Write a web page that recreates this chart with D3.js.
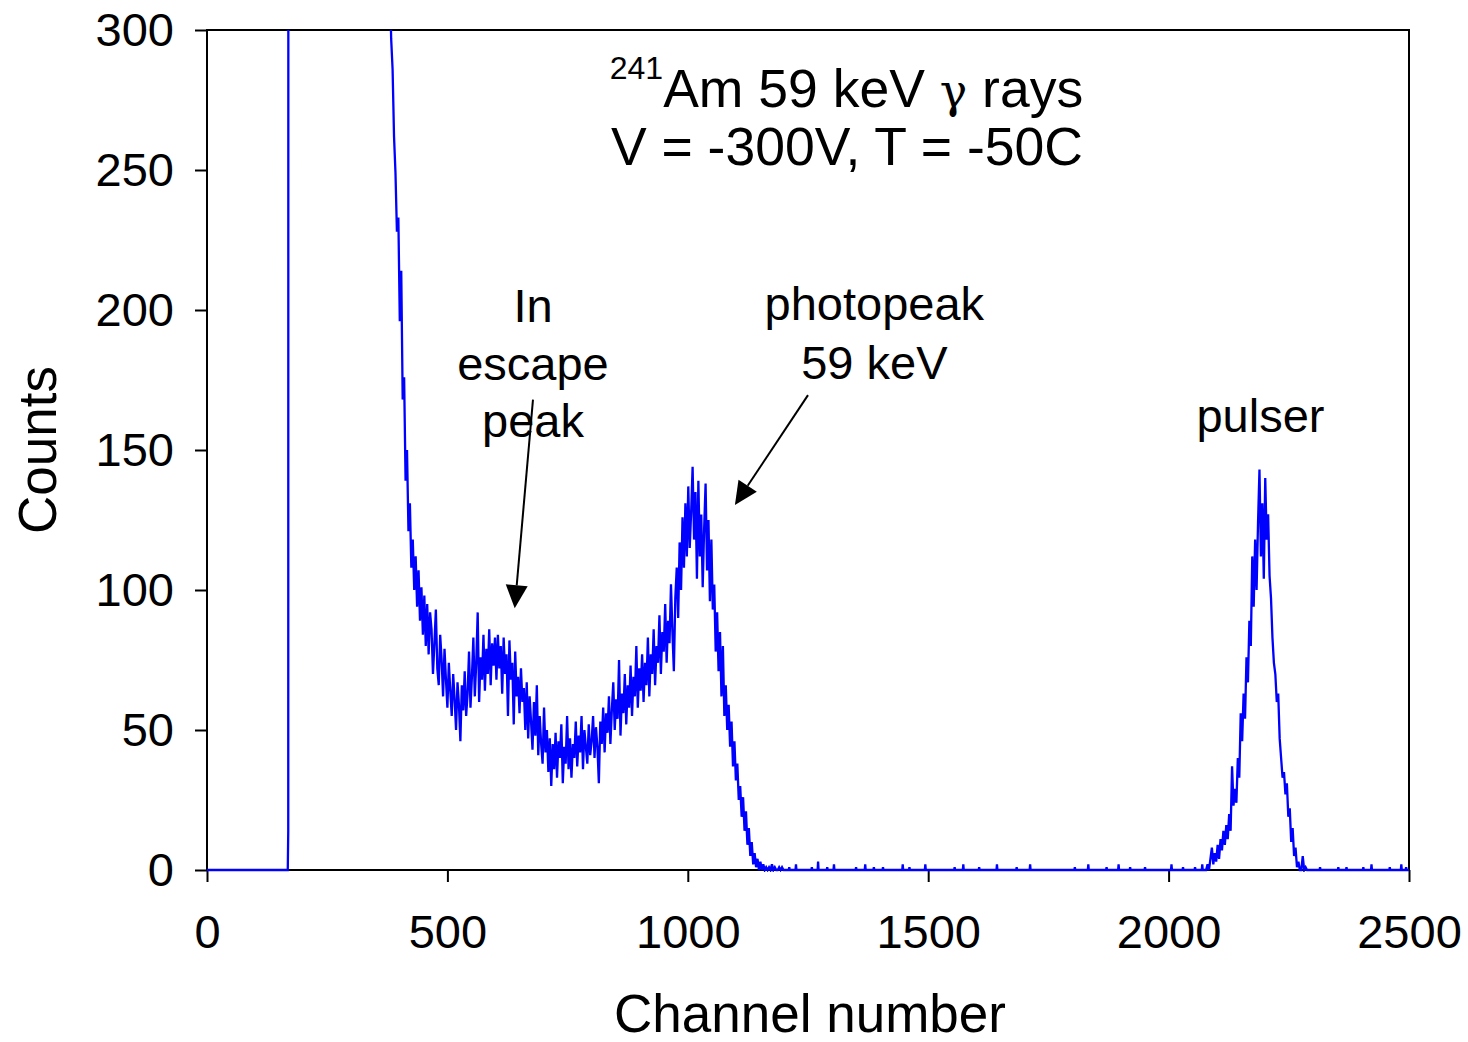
<!DOCTYPE html>
<html><head><meta charset="utf-8">
<script src="https://cdn.jsdelivr.net/npm/d3@7"></script>
<style>
html,body{margin:0;padding:0;background:#fff;}
svg{display:block;}
text{font-family:"Liberation Sans",Arial,Helvetica,sans-serif;fill:#000;}
</style></head><body>
<svg id="chart" width="1468" height="1042"></svg>
<script>
// ---- data ----
const xTicks = [0, 500, 1000, 1500, 2000, 2500];
const yTicks = [0, 50, 100, 150, 200, 250, 300];

// leading edge (threshold) — values above 300 are off-scale
const riseChannels = [0, 168, 169, 170, 260, 374];
const riseCounts   = [0, 0, 14, 1800, 1200, 380];

// main spectrum, channels 377..1199, every 3rd channel
const mainStart = 377, mainStep = 3;
const mainCounts = [
 345,322,297,286,262,249,228,233,196,214,
 168,176,139,150,121,131,108,118,100,112,
 94,107,89,101,84,98,80,95,77,92,
 86,70,81,93,72,66,84,75,62,79,
 68,58,74,64,55,70,61,50,67,59,
 46,66,57,71,55,63,78,58,69,83,
 62,74,92,60,76,68,84,64,79,70,
 86,66,81,73,83,68,84,72,80,63,
 83,70,77,55,82,68,74,52,78,62,
 69,56,72,60,65,50,67,47,62,53,
 43,60,48,66,41,55,45,38,58,42,
 50,35,47,30,45,36,49,33,46,40,
 52,31,44,38,55,36,47,33,45,40,
 53,37,48,42,55,36,50,44,38,52,
 41,46,55,40,51,44,31,53,45,58,
 42,56,49,62,45,57,67,50,61,54,
 75,48,63,56,70,52,66,58,73,55,
 69,62,80,58,72,64,77,60,74,66,
 83,62,77,70,86,66,80,74,91,70,
 85,78,95,74,89,81,102,85,71,97,
 108,90,117,100,126,108,131,112,137,115,
 128,144,118,135,104,139,112,127,101,122,
 138,107,125,96,118,93,102,78,92,71,
 85,62,80,55,66,50,59,44,53,37,
 46,32,38,25,30,19,26,14,21,9,
 15,5,10,2,6,1,4,0,3,0,
 2,0,1,0,1,0,2,0,1,0,
 0,1,0,1,0
];

// pulser peak, channels 2078..2291, every 3rd channel
const pulserStart = 2078, pulserStep = 3;
const pulserCounts = [
 0,2,0,4,8,2,6,3,9,4,
 11,7,14,9,16,11,20,14,37,23,
 29,24,40,33,56,46,63,54,76,67,
 89,80,112,94,118,100,124,143,112,131,
 104,140,118,127,105,97,83,74,70,60,
 63,47,40,33,35,27,31,19,22,10,
 15,5,8,1,3,0,0,5,0,1,
 0,0
];

// isolated single-channel counts on the flat baseline
const blipChannels = [1211,1225,1258,1271,1290,1304,1350,1369,1387,1406,1447,1461,1494,1555,1573,1606,1643,1684,1712,1805,1833,1871,1896,1920,1951,2006,2030,2055,2070,2315,2353,2370,2405,2422,2460,2484,2494];
const blipCounts   = [1,2,1,3,1,2,1,2,1,1,2,1,2,1,2,1,2,1,2,1,2,1,2,1,1,2,1,1,2,1,1,1,1,2,1,2,1];
const lastChannel = 2500;

// ---- layout ----
const W = 1468, H = 1042;
const m = {left: 207, top: 30, right: 59, bottom: 172};
const iw = W - m.left - m.right, ih = H - m.top - m.bottom;

const x = d3.scaleLinear().domain([0, 2500]).range([m.left, m.left + iw]);
const y = d3.scaleLinear().domain([0, 300]).range([m.top + ih, m.top]);

const svg = d3.select('#chart');

// build point list
let pts = [];
riseChannels.forEach((c, i) => pts.push([c, riseCounts[i]]));
mainCounts.forEach((v, i) => pts.push([mainStart + i * mainStep, v]));
pulserCounts.forEach((v, i) => pts.push([pulserStart + i * pulserStep, v]));
blipChannels.forEach((c, i) => { pts.push([c - 1, 0]); pts.push([c, blipCounts[i]]); pts.push([c + 1, 0]); });
pts.push([lastChannel, 0]);
pts.sort((a, b) => a[0] - b[0]);

// axes
const tickFont = 47;
const gx = svg.append('g').attr('transform', `translate(0,${m.top + ih})`)
  .call(d3.axisBottom(x).tickValues(xTicks).tickSize(12).tickSizeOuter(0).tickPadding(33).tickFormat(d3.format('d')));
const gy = svg.append('g').attr('transform', `translate(${m.left},0)`)
  .call(d3.axisLeft(y).tickValues(yTicks).tickSize(12).tickSizeOuter(0).tickPadding(21).tickFormat(d3.format('d')));
[gx, gy].forEach(g => {
  g.select('.domain').remove();
  g.selectAll('line').attr('stroke', '#000').attr('stroke-width', 2);
  g.selectAll('text').attr('font-size', tickFont).attr('fill', '#000')
    .style('font-family', '"Liberation Sans", Arial, sans-serif');
});

// frame
svg.append('rect').attr('x', x(0)).attr('y', y(300)).attr('width', x(2500) - x(0)).attr('height', y(0) - y(300))
  .attr('fill', 'none').attr('stroke', '#000').attr('stroke-width', 2);

// clip
svg.append('clipPath').attr('id', 'plotclip').append('rect')
  .attr('x', x(0)).attr('y', y(300)).attr('width', x(2500) - x(0)).attr('height', y(0) - y(300) + 2);

// spectrum line
svg.append('path').datum(pts)
  .attr('clip-path', 'url(#plotclip)')
  .attr('fill', 'none').attr('stroke', '#0000ff').attr('stroke-width', 2.3).attr('stroke-linejoin', 'miter')
  .attr('d', d3.line().x(d => x(d[0])).y(d => y(d[1])));

// axis titles
svg.append('text').attr('x', 810).attr('y', 1032).attr('text-anchor', 'middle')
  .attr('font-size', 53).text('Channel number');
svg.append('text').attr('transform', `translate(56,${(y(0) + y(300)) / 2}) rotate(-90)`)
  .attr('text-anchor', 'middle').attr('font-size', 53).text('Counts');

// title
const tFont = 53.5;
const t1 = svg.append('text').attr('x', x(1330)).attr('y', y(272.5)).attr('text-anchor', 'middle').attr('font-size', tFont);
t1.append('tspan').attr('font-size', 32).attr('dy', -28).text('241');
t1.append('tspan').attr('dy', 28).text('Am 59 keV ');
t1.append('tspan').style('font-family', '"DejaVu Serif", serif').attr('font-size', 46).text('γ');
t1.append('tspan').text(' rays');
svg.append('text').attr('x', x(1331)).attr('y', y(251.8)).attr('text-anchor', 'middle').attr('font-size', tFont)
  .text('V = -300V, T = -50C');

// annotations
const annFont = 47;
function label(lines, ch, counts) {
  lines.forEach((s, i) => svg.append('text').attr('x', x(ch)).attr('y', y(counts[i]))
    .attr('text-anchor', 'middle').attr('font-size', annFont).text(s));
}
label(['In', 'escape', 'peak'], 678, [195.7, 175, 154.6]);
label(['photopeak', '59 keV'], 1388, [196.4, 175.5]);
label(['pulser'], 2191, [156.4]);

function arrow(c0, v0, c1, v1) {
  const x0 = x(c0), y0 = y(v0), x1 = x(c1), y1 = y(v1);
  const dx = x1 - x0, dy = y1 - y0, L = Math.hypot(dx, dy);
  const ux = dx / L, uy = dy / L, hl = 23, hw = 11;
  const bx = x1 - ux * hl, by = y1 - uy * hl;
  svg.append('line').attr('x1', x0).attr('y1', y0).attr('x2', bx).attr('y2', by)
    .attr('stroke', '#000').attr('stroke-width', 2);
  svg.append('polygon').attr('fill', '#000')
    .attr('points', [[x1, y1], [bx - uy * hw, by + ux * hw], [bx + uy * hw, by - ux * hw]].map(p => p.join(',')).join(' '));
}
arrow(678, 168, 640, 93.5);
arrow(1250, 169.6, 1098, 130.4);
</script>
</body></html>
